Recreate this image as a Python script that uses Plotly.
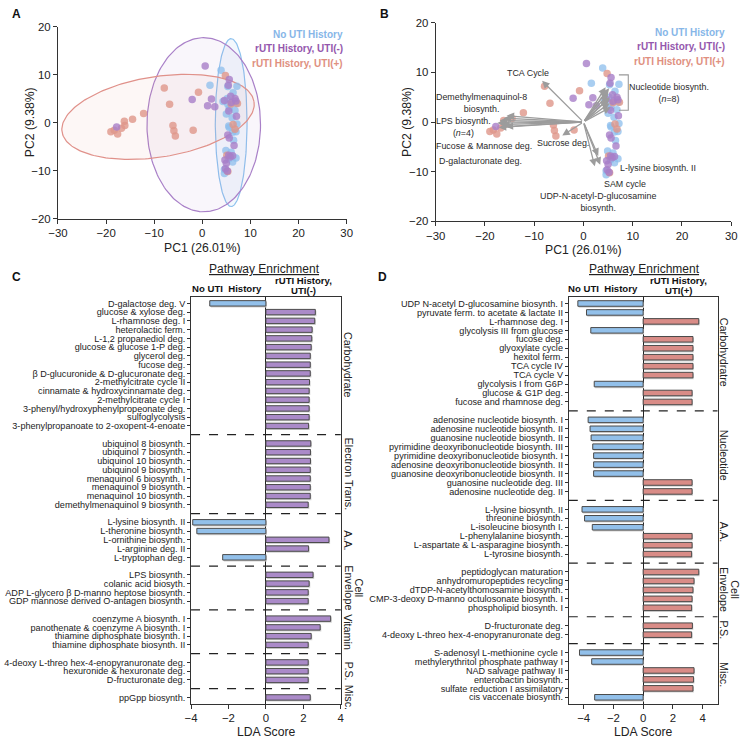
import numpy as np
import plotly.graph_objects as go

W, H = 748, 744
FONT = "Liberation Sans, Arial, Helvetica, sans-serif"

# ---------------- PCA scores ----------------
no_uti_pc1 = [3.9, 1.6, 7.2, 5.3, 6.4, 5.2, 7.0, 5.6, 6.8, 5.0, 6.2, 5.5, 7.0, 5.6, 6.3, 4.9, 6.0, 7.0, 6.3, 5.5, 4.6, 4.6, 6.5, 4.3, 7.2, 5.3]
no_uti_pc2 = [10.9, 7.8, 7.6, 7.5, 6.2, 5.0, 4.0, 3.0, 2.5, 1.8, 1.0, -0.7, -1.9, -1.0, -2.0, -5.8, -6.2, -7.4, -8.2, -7.6, -9.8, -10.6, -3.7, 4.4, -0.3, 3.8]
uti_neg_pc1 = [0.6, 5.6, 5.4, -2.1, 1.9, 4.6, 5.9, 6.8, 1.1, 2.6, 6.0, 7.0, 5.5, 7.1, -17.8, 5.3, 5.6, 6.6, 5.5, 6.3, 4.7, 5.0, 4.8, 5.2, 5.8]
uti_neg_pc2 = [11.8, 9.0, 7.8, 4.8, 4.9, 4.6, 5.5, 5.0, 3.5, 3.3, 4.2, 4.5, 2.4, 1.3, -0.9, -2.6, -3.2, -4.8, -6.8, -6.9, -7.8, -8.5, -9.6, -10.1, -7.2]
uti_pos_pc1 = [-19.0, -18.3, -17.6, -16.2, -16.1, -16.8, -14.5, -12.2, -7.9, -6.8, -6.1, -5.9, -5.6, -0.8, -1.9, 4.8, 7.3, 6.4, 6.8, 5.1, 5.3, 6.0]
uti_pos_pc2 = [-1.9, -1.6, -2.4, 0.3, -0.6, -1.2, 0.7, 1.9, 7.2, 3.8, -0.6, -1.7, -2.8, 6.3, -1.6, 9.8, 4.0, -0.4, -1.4, -6.8, -10.2, 3.9]

# confidence ellipses (center, semi-axes, rotation in degrees)
ellipse_cx = [6.0, 0.3, -9.2]
ellipse_cy = [0.0, -0.45, 1.2]
ellipse_a = [3.3, 11.8, 20.2]
ellipse_b = [17.5, 18.15, 8.4]
ellipse_angle = [0.0, 0.0, 9.0]

# biplot loadings (panel B)
loading_pc1 = [-8.4, -15.6, -16.2, -17.0, -17.5, -16.5, -15.8, -17.2, -4.3,
               4.5, 4.8, 5.2, 5.0, 5.4, 5.3, 5.5, 4.9, 3.0, 3.4, 2.3]
loading_pc2 = [8.3, 1.3, 0.8, 0.3, -0.2, -0.5, -0.9, -1.1, -2.7,
               7.0, 6.4, 6.8, 5.6, 5.0, 3.8, 3.0, 4.5, -6.8, -8.6, -8.9]

group_names = ["No UTI History", "rUTI History, UTI(-)", "rUTI History, UTI(+)"]

# ---------------- LDA panel C ----------------
c_groups = ["Carbohydrate", "Electron Trans.", "A.A.", "Cell|Envelope", "Vitamin", "P.S.", "Misc."]
c_group_sizes = [15, 8, 5, 4, 4, 3, 1]
c_labels = [
    "D-galactose deg. V", "glucose & xylose deg.", "L-rhamnose deg. I", "heterolactic ferm.",
    "L-1,2 propanediol deg.", "glucose & glucose 1-P deg.", "glycerol deg.", "fucose deg.",
    "β D-glucuronide & D-glucuronate deg.", "2-methylcitrate cycle II",
    "cinnamate & hydroxycinnamate deg.", "2-methylcitrate cycle I",
    "3-phenyl/hydroxyphenylpropeonate deg.", "sulfoglycolysis",
    "3-phenylpropanoate to 2-oxopent-4-enoate",
    "ubiquinol 8 biosynth.", "ubiquinol 7 biosynth.", "ubiquinol 10 biosynth.", "ubiquinol 9 biosynth.",
    "menaquinol 6 biosynth. I", "menaquinol 9 biosynth.", "menaquinol 10 biosynth.",
    "demethylmenaquinol 9 biosynth.",
    "L-lysine biosynth. II", "L-theronine biosynth.", "L-ornithine biosynth.", "L-arginine deg. II",
    "L-tryptophan deg.",
    "LPS biosynth.", "colanic acid biosyth.", "ADP L-glycero β D-manno heptose biosynth.",
    "GDP mannose derived O-antagen biosynth.",
    "coenzyme A biosynth. I", "panothenate & coenzyme A biosynth. I",
    "thiamine diphosphate biosynth. I", "thiamine diphosphate biosynth. II",
    "4-deoxy L-threo hex-4-enopyranuronate deg.", "hexuronide & hexuronate deg.", "D-fructuronate deg.",
    "ppGpp biosynth.",
]
c_scores = [
    -3.0, 2.64, 2.61, 2.47, 2.45, 2.42, 2.37, 2.37, 2.37, 2.33, 2.31, 2.31, 2.31, 2.31, 2.28,
    2.40, 2.38, 2.38, 2.37, 2.37, 2.37, 2.37, 2.26,
    -3.91, -3.69, 3.37, 2.28, -2.31,
    2.52, 2.31, 2.26, 2.26,
    3.46, 2.90, 2.42, 2.26,
    2.26, 2.26, 2.26,
    2.37,
]

# ---------------- LDA panel D ----------------
d_groups = ["Carbohydratre", "Nucleotide", "A.A.", "Cell|Envelope", "P.S.", "Misc."]
d_group_sizes = [12, 9, 6, 5, 2, 6]
d_labels = [
    "UDP N-acetyl D-glucosamine biosynth. I", "pyruvate ferm. to acetate & lactate II",
    "L-rhamnose deg. I", "glycolysis III from glucose", "fucose deg.", "glyoxylate cycle",
    "hexitol ferm.", "TCA cycle IV", "TCA cycle V", "glycolysis I from G6P",
    "glucose & G1P deg.", "fucose and rhamnose deg.",
    "adenosine nucleotide biosynth. I", "adenosine nucleotide biosynth. II",
    "guanosine nucleotide biosynth. II", "pyrimidine deoxyribonucleotide biosynth. III",
    "pyrimidine deoxyribonucleotide biosynth. I", "adenosine deoxyribonucleotide biosynth. II",
    "guanosine deoxyribonucleotide biosynth. II", "guanosine nucleotide deg. III",
    "adenosine nucleotide deg. II",
    "L-lysine biosynth. II", "threonine biosynth.", "L-isoleucine biosynth I.",
    "L-phenylalanine biosynth.", "L-aspartate & L-asparagine biosynth.", "L-tyrosine biosynth.",
    "peptidoglycan maturation", "anhydromuropeptides recycling", "dTDP-N-acetylthomosamine biosynth.",
    "CMP-3-deoxy D-manno octulosonate biosynth. I", "phospholipid biosynth. I",
    "D-fructuronate deg.", "4-deoxy L-threo hex-4-enopyranuronate deg.",
    "S-adenosyl L-methionine cycle I", "methylerythritol phosphate pathway I",
    "NAD salvage pathway II", "enterobactin biosynth.", "sulfate reduction I assimilatory",
    "cis vaccenate biosynth.",
]
d_scores = [
    -4.39, -3.81, 3.74, -3.52, 3.35, 3.35, 3.35, 3.35, 3.35, -3.29, 3.29, 3.29,
    -3.70, -3.57, -3.50, -3.39, -3.33, -3.33, -3.33, 3.29, 3.29,
    -4.11, -3.94, -3.42, 3.29, 3.29, 3.26,
    3.74, 3.42, 3.35, 3.29, 3.26,
    3.31, 3.26,
    -4.28, -3.46, 3.42, 3.39, 3.35, -3.26,
]

# ---------------- styles ----------------
COL_BLUE = "#92c0ea"
COL_PURP = "#aa8ac8"
COL_RED = "#d98c87"
PT_BLUE = "rgba(140,190,236,0.75)"
PT_PURP = "rgba(168,126,200,0.8)"
PT_RED = "rgba(222,150,138,0.8)"
TXT_BLUE = "#86b6e8"
TXT_PURP = "#9457ad"
TXT_RED = "#e0907f"
LINE = "#333333"


def P(px, py):
    return px / W, 1 - py / H


fig = go.Figure()

# ---------- Panel A ----------
ell_line = ["#8ec2ee", "#a980c8", "#e0918a"]
ell_fill = ["rgba(140,190,236,0.10)", "rgba(168,126,200,0.07)", "rgba(222,140,130,0.07)"]
t = np.linspace(0, 2 * np.pi, 200)
for i in range(3):
    th = np.deg2rad(ellipse_angle[i])
    ex = ellipse_cx[i] + ellipse_a[i] * np.cos(t) * np.cos(th) - ellipse_b[i] * np.sin(t) * np.sin(th)
    ey = ellipse_cy[i] + ellipse_a[i] * np.cos(t) * np.sin(th) + ellipse_b[i] * np.sin(t) * np.cos(th)
    fig.add_trace(go.Scatter(x=ex, y=ey, mode="lines", fill="toself", fillcolor=ell_fill[i],
                             line=dict(color=ell_line[i], width=1.2), xaxis="x", yaxis="y",
                             hoverinfo="skip", showlegend=False))

for ax, ay in (("x", "y"), ("x2", "y2")):
    fig.add_trace(go.Scatter(x=no_uti_pc1, y=no_uti_pc2, mode="markers", xaxis=ax, yaxis=ay,
                             marker=dict(size=7.5, color=PT_BLUE), showlegend=False))
    fig.add_trace(go.Scatter(x=uti_pos_pc1, y=uti_pos_pc2, mode="markers", xaxis=ax, yaxis=ay,
                             marker=dict(size=7.5, color=PT_RED), showlegend=False))
    fig.add_trace(go.Scatter(x=uti_neg_pc1, y=uti_neg_pc2, mode="markers", xaxis=ax, yaxis=ay,
                             marker=dict(size=7.5, color=PT_PURP), showlegend=False))

ann = []
shapes = []

# loadings arrows
for lx, ly in zip(loading_pc1, loading_pc2):
    ann.append(dict(x=lx, y=ly, ax=0, ay=0, xref="x2", yref="y2", axref="x2", ayref="y2",
                    text="", showarrow=True, arrowhead=2, arrowsize=1.15, arrowwidth=1.3,
                    arrowcolor="#9c9c9c"))

# bracket for nucleotide
shapes.append(dict(type="path", xref="x2", yref="y2",
                   path="M 7.2 9.5 L 9.1 9.5 L 9.1 2.4 L 7.2 2.4",
                   line=dict(color="#999999", width=1.1)))


def txt_ann(text, px, py, size, color="#222", anchor="center", angle=0):
    x, y = P(px, py)
    ann.append(dict(x=x, y=y, xref="paper", yref="paper", text=text, showarrow=False, textangle=angle,
                    xanchor=anchor, yanchor="middle", font=dict(size=size, color=color, family=FONT)))


b_labels = [
    ("TCA Cycle", 529, 68),
    ("Demethylmenaquinol-8<br>biosynth.", 482, 99),
    ("LPS biosynth.<br>(<i>n</i>=4)", 463, 122.5),
    ("Fucose & Mannose deg.", 484, 142.5),
    ("D-galacturonate deg.", 480.5, 157.5),
    ("Sucrose deg.", 565.5, 139.5),
    ("Nucleotide biosynth.<br>(<i>n</i>=8)", 673, 88),
    ("L-lysine biosynth. II", 662, 165),
    ("SAM cycle", 628.5, 181),
    ("UDP-N-acetyl-D-glucosamine<br>biosynth.", 600.5, 199.5),
]
for txt, px, py in b_labels:
    txt_ann(txt, px, py, 8.9, "#2a2a2a")

# legends
for (rx, ys) in ((342, (29, 43.5, 58)), (733, (27, 41.5, 56))):
    for name, col, yy in zip(group_names, (TXT_BLUE, TXT_PURP, TXT_RED), ys):
        txt_ann("<b>%s</b>" % name, rx, yy, 10, col, anchor="right")

# axis titles
for cx, cy, txt, ang in ((196.5, 246, "PC1 (26.01%)", 0), (20, 118.5, "PC2 (9.38%)", -90),
                         (586, 248, "PC1 (26.01%)", 0), (405.5, 118, "PC2 (9.38%)", -90),
                         (261.5, 737.5, "LDA Score", 0), (647, 737.5, "LDA Score", 0)):
    txt_ann(txt, cx, cy, 12.2, "#222", angle=ang)

# panel letters
for txt, px, py in (("A", 7, 8), ("B", 383, 8), ("C", 7, 275), ("D", 381, 275)):
    txt_ann("<b>%s</b>" % txt, px, py, 12, "#111")

# headers C/D
for pe_x, no_x, r_x, r_txt in ((260, 222, 300, "UTI(-)"), (648, 606, 683, "UTI(+)")):
    txt_ann("<u>Pathway Enrichment</u>", pe_x, 267, 12, "#222")
    txt_ann("<b>No UTI  History</b>", no_x, 287.5, 9.6, "#111")
    txt_ann("<b>rUTI History,</b>", r_x, 279, 9.6, "#111")
    txt_ann("<b>%s</b>" % r_txt, r_x, 289.5, 9.6, "#111")


def lda_panel(labels, scores, groups, sizes, pos_color, xa, ya, label_x):
    pos = []
    gaps = []
    centers = []
    p = 0
    for gi, n in enumerate(sizes):
        start = p
        for _ in range(n):
            pos.append(p)
            p += 1
        centers.append((start + p - 1) / 2)
        if gi < len(sizes) - 1:
            gaps.append(p)
            p += 1
    cols = [COL_BLUE if s < 0 else pos_color for s in scores]
    # soft drop shadow
    fig.add_trace(go.Bar(x=scores, y=pos, orientation="h", width=0.62, offset=-0.31 + 0.16, base=0.06,
                         xaxis=xa, yaxis=ya, marker=dict(color="#d2d2d2", line=dict(width=0)),
                         hoverinfo="skip", showlegend=False))
    fig.add_trace(go.Bar(x=scores, y=pos, orientation="h", width=0.62, xaxis=xa, yaxis=ya,
                         marker=dict(color=cols, line=dict(color="#4a4a4a", width=1)),
                         showlegend=False))
    for g in gaps:
        shapes.append(dict(type="line", xref=xa + " domain", yref=ya, x0=0, x1=1, y0=g, y1=g,
                           line=dict(color="#222", width=1.2, dash="dash")))
    for name, c in zip(groups, centers):
        parts = name.split("|")
        if len(parts) == 1:
            xs = [label_x]
        else:
            xs = [label_x + 11, label_x]
        for part, xx in zip(parts, xs):
            ann.append(dict(x=xx / W, y=c, xref="paper", yref=ya, text=part, showarrow=False, textangle=90,
                            xanchor="center", yanchor="middle", font=dict(size=10.8, color="#222", family=FONT)))
    return pos


c_pos = lda_panel(c_labels, c_scores, c_groups, c_group_sizes, COL_PURP, "x3", "y3", 346)
d_pos = lda_panel(d_labels, d_scores, d_groups, d_group_sizes, COL_RED, "x4", "y4", 729.5)

axis_common = dict(showgrid=False, showline=True, linecolor=LINE, linewidth=1,
                   ticks="outside", ticklen=4, tickcolor=LINE,
                   tickfont=dict(size=11.4, color="#222", family=FONT))
ycat_common = dict(mirror=True, showgrid=False, zeroline=False, showline=True,
                   linecolor=LINE, ticks="outside", ticklen=3, tickcolor=LINE,
                   tickfont=dict(size=9.1, color="#222", family=FONT))

fig.update_layout(
    width=W, height=H, margin=dict(l=0, r=0, t=0, b=0),
    paper_bgcolor="white", plot_bgcolor="rgba(0,0,0,0)",
    font=dict(family=FONT, color="#222"),
    showlegend=False, barmode="overlay",
    xaxis=dict(domain=[49 / W, 344 / W], range=[-30, 30], tickvals=[-30, -20, -10, 0, 10, 20, 30],
               anchor="y", zeroline=False, **axis_common),
    yaxis=dict(domain=[1 - 216 / H, 1 - 21 / H], range=[-20, 20], tickvals=[-20, -10, 0, 10, 20],
               anchor="x", zeroline=False, **axis_common),
    xaxis2=dict(domain=[435 / W, 737 / W], range=[-30, 30], tickvals=[-30, -20, -10, 0, 10, 20, 30],
                anchor="y2", zeroline=False, **axis_common),
    yaxis2=dict(domain=[1 - 219 / H, 1 - 17 / H], range=[-20, 20], tickvals=[-20, -10, 0, 10, 20],
                anchor="x2", zeroline=False, **axis_common),
    xaxis3=dict(domain=[185 / W, 338 / W], range=[-4, 4], tickvals=[-4, -2, 0, 2, 4], anchor="y3",
                mirror=True, zeroline=True, zerolinecolor="#222", zerolinewidth=1.3, **axis_common),
    yaxis3=dict(domain=[1 - 709 / H, 1 - 296 / H], range=[c_pos[-1] + 0.7, -0.7], tickvals=c_pos,
                ticktext=c_labels, anchor="x3", **ycat_common),
    xaxis4=dict(domain=[571 / W, 723 / W], range=[-5, 5], tickvals=[-4, -2, 0, 2, 4], anchor="y4",
                mirror=True, zeroline=True, zerolinecolor="#222", zerolinewidth=1.3, **axis_common),
    yaxis4=dict(domain=[1 - 709 / H, 1 - 296 / H], range=[d_pos[-1] + 0.7, -0.7], tickvals=d_pos,
                ticktext=d_labels, anchor="x4", **ycat_common),
    annotations=ann, shapes=shapes,
)

fig.write_html("out.html", config={"displayModeBar": False},
               post_script="document.body.style.margin='0';")
